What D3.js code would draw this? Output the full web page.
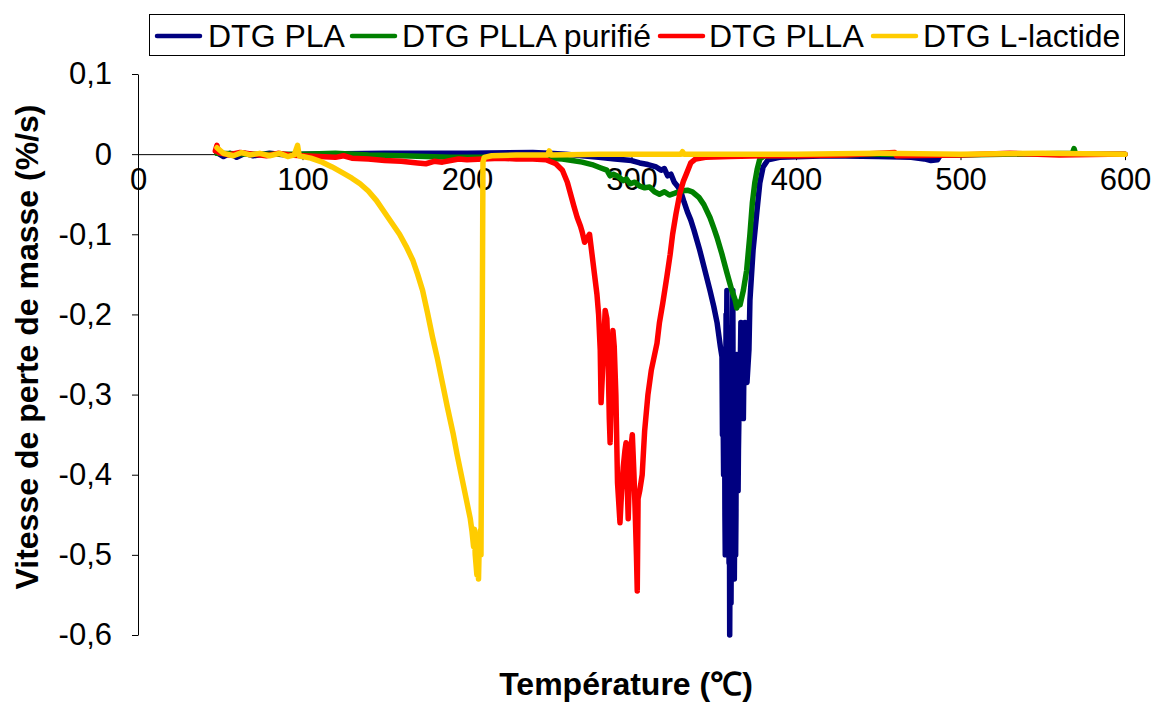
<!DOCTYPE html>
<html>
<head>
<meta charset="utf-8">
<script src="https://cdn.jsdelivr.net/npm/d3@7"></script>
<style>
  body { margin: 0; background: #fff; }
  svg { display: block; font-family: 'Liberation Sans', Arial, sans-serif; }
</style>
</head>
<body>
<div id="chart"></div>
<script>
// [température °C, vitesse %/s]
const seriesNames = ['DTG PLA', 'DTG PLLA purifié', 'DTG PLLA', 'DTG L-lactide'];

const dtgPLA = [
  [48, 0.002], [52, -0.003], [56, 0.001], [60, -0.004], [65, 0.001], [70, -0.002], [80, 0.001],
  [90, -0.001], [100, 0], [150, 0.001], [200, 0.001], [240, 0.002], [250, 0.001], [260, 0],
  [270, -0.002], [280, -0.004], [290, -0.006], [300, -0.008], [305, -0.011], [310, -0.013],
  [315, -0.016], [318, -0.02], [320, -0.018], [322, -0.027], [324, -0.025], [326, -0.035],
  [328, -0.04], [330, -0.047], [332, -0.06], [334, -0.072], [336, -0.082], [338, -0.095],
  [341.5, -0.12], [344, -0.14], [347.7, -0.17], [350, -0.19], [352, -0.21], [354, -0.24],
  [355, -0.253], [355.3, -0.35], [355.6, -0.3], [356, -0.4], [356.3, -0.28], [356.5, -0.25],
  [356.8, -0.45], [357, -0.5], [357.3, -0.3], [357.5, -0.2], [357.7, -0.26], [358, -0.17],
  [358.3, -0.33], [358.5, -0.41], [358.8, -0.3], [359, -0.35], [359.3, -0.51], [359.5, -0.4],
  [359.7, -0.6], [359.9, -0.5], [360.1, -0.45], [360.3, -0.52], [360.5, -0.56], [360.8, -0.42],
  [361, -0.37], [361.3, -0.25], [361.6, -0.17], [361.8, -0.35], [362, -0.5], [362.2, -0.42],
  [362.5, -0.53], [362.8, -0.44], [363, -0.38], [363.3, -0.5], [363.5, -0.45], [363.8, -0.3],
  [364, -0.25], [364.3, -0.4], [364.5, -0.33], [364.8, -0.42], [365, -0.37], [365.5, -0.3],
  [366, -0.28], [366.5, -0.21], [367, -0.3], [367.5, -0.25], [368, -0.33], [368.5, -0.24],
  [369, -0.21], [369.6, -0.26], [370.2, -0.285], [371.4, -0.244], [372, -0.182], [373.9, -0.12],
  [376.3, -0.07], [378, -0.036], [380, -0.016], [383, -0.007], [390, -0.004], [420, -0.002],
  [450, -0.003], [470, -0.004], [478, -0.006], [482, -0.008], [486, -0.007], [487.5, -0.002]
];

const dtgPLLApurifie = [
  [48, 0.001], [70, 0], [100, 0], [120, 0.001], [140, -0.001], [160, -0.002], [175, -0.003],
  [190, -0.004], [200, -0.004], [220, -0.004], [240, -0.004], [250, -0.005], [258, -0.006],
  [264, -0.008], [270, -0.01], [276, -0.013], [281, -0.017], [285, -0.02], [287, -0.027],
  [289, -0.025], [292, -0.028], [295, -0.033], [297, -0.031], [299, -0.037], [302, -0.035],
  [305, -0.04], [308, -0.042], [311, -0.041], [314, -0.047], [317, -0.05], [320, -0.047],
  [323, -0.051], [326, -0.049], [330, -0.046], [334, -0.045], [337, -0.047], [341, -0.054],
  [344, -0.063], [347.7, -0.079], [350, -0.092], [352, -0.104], [355, -0.125], [358, -0.148],
  [361, -0.17], [363, -0.182], [364, -0.192], [365, -0.185], [366, -0.188], [368, -0.17],
  [370, -0.145], [372, -0.1], [373.5, -0.06], [375, -0.035], [376.5, -0.018], [378, -0.006],
  [381, -0.002], [400, -0.001], [450, 0], [500, -0.001], [568, 0.001], [569, 0.007],
  [570, 0], [600, 0]
];

const dtgPLLA = [
  [47, 0.004], [48, 0.011], [49, 0.002], [55, -0.001], [62, 0.002], [70, 0], [78, -0.002],
  [85, 0.001], [92, -0.001], [100, -0.002], [110, -0.003], [120, -0.004], [125, -0.002],
  [130, -0.005], [140, -0.006], [150, -0.008], [160, -0.009], [170, -0.011], [175, -0.012],
  [180, -0.009], [185, -0.01], [190, -0.008], [195, -0.006], [200, -0.007], [210, -0.006],
  [220, -0.005], [230, -0.006], [240, -0.006], [248, -0.007], [254, -0.012], [258, -0.02],
  [261, -0.035], [263, -0.05], [265, -0.065], [267, -0.079], [269, -0.09], [270, -0.097],
  [271.5, -0.11], [273, -0.105], [274.5, -0.1], [276, -0.125], [277.5, -0.15], [279, -0.175],
  [280, -0.2], [281, -0.245], [281.5, -0.31], [282.2, -0.28], [283, -0.24], [284, -0.195],
  [285, -0.205], [285.7, -0.245], [286.5, -0.33], [287, -0.36], [288, -0.27], [288.7, -0.22],
  [289.5, -0.24], [290.5, -0.3], [291.5, -0.41], [293, -0.46], [294, -0.42], [295, -0.39],
  [296, -0.37], [296.7, -0.36], [297.5, -0.42], [298, -0.455], [299, -0.38], [300.5, -0.35],
  [301.5, -0.4], [302.3, -0.45], [303, -0.5], [303.5, -0.545], [304, -0.43], [305, -0.42],
  [306.5, -0.4], [308, -0.345], [310, -0.3], [312, -0.27], [315.5, -0.236], [317, -0.21],
  [319, -0.186], [321.5, -0.153], [323.5, -0.125], [325, -0.1], [327, -0.075], [329.5, -0.048],
  [331.5, -0.034], [333.5, -0.024], [336, -0.011], [339, -0.006], [345, -0.004], [360, -0.003],
  [380, -0.002], [400, -0.002], [430, -0.001], [460, 0.002], [461, -0.002], [500, -0.001],
  [530, 0.001], [560, -0.001], [590, 0], [600, 0]
];

const dtgLlactide = [
  [48, 0.008], [52, 0.001], [58, -0.002], [63, 0.002], [68, -0.001], [74, 0.001], [80, -0.002],
  [86, 0.001], [91, -0.003], [95, -0.001], [97, 0.011], [98, -0.002], [100, -0.003],
  [105, -0.005], [112, -0.01], [118, -0.016], [125, -0.024], [130, -0.03], [135, -0.037],
  [140, -0.046], [145, -0.058], [149, -0.07], [154, -0.085], [159, -0.1], [163, -0.115],
  [167, -0.132], [170, -0.15], [173, -0.17], [176, -0.198], [179, -0.228], [182, -0.255],
  [185, -0.285], [188, -0.315], [191.5, -0.348], [194, -0.375], [197.5, -0.41], [200, -0.435],
  [202, -0.455], [203, -0.47], [204, -0.49], [204.5, -0.468], [205, -0.5], [206, -0.525],
  [206.5, -0.49], [207, -0.53], [207.5, -0.48], [208, -0.47], [208.5, -0.5], [209.3, -0.2],
  [209.7, -0.01], [210.5, -0.004], [215, -0.002], [230, -0.001], [249, -0.001], [250, 0.004],
  [251, -0.001], [280, 0], [300, 0], [330, 0], [331, 0.003], [332, 0], [360, 0], [400, 0],
  [450, 0.001], [500, 0], [550, 0.001], [600, 0]
];

const seriesData = [dtgPLA, dtgPLLApurifie, dtgPLLA, dtgLlactide];
const seriesColors = ['#000080', '#008000', '#ff0000', '#ffcc00'];

const xTicks = [0, 100, 200, 300, 400, 500, 600];
const yTicks = [0.1, 0, -0.1, -0.2, -0.3, -0.4, -0.5, -0.6];

const width = 1154;
const height = 702;

const svg = d3.select('#chart').append('svg')
  .attr('width', width)
  .attr('height', height);

const xScale = d3.scaleLinear().domain([0, 600]).range([138, 1125]);
const yScale = d3.scaleLinear().domain([-0.6, 0.1]).range([635, 74]);

const fmt = (d) => (d === 0 ? '0' : d3.format('.1f')(d).replace('.', ',').replace('−', '-'));

// axe y
const yAxis = d3.axisLeft(yScale)
  .tickValues(yTicks)
  .tickSizeInner(6)
  .tickSizeOuter(0)
  .tickPadding(20)
  .tickFormat(fmt);

const yG = svg.append('g')
  .attr('transform', `translate(${xScale(0)},0)`)
  .call(yAxis);

// axe x, croise à y = 0
const xAxis = d3.axisBottom(xScale)
  .tickValues(xTicks)
  .tickSizeInner(6)
  .tickSizeOuter(0)
  .tickPadding(8)
  .tickFormat((d) => d);

const xG = svg.append('g')
  .attr('transform', `translate(0,${yScale(0)})`)
  .call(xAxis);

[xG, yG].forEach((g) => {
  g.selectAll('path, line').attr('stroke', '#000').attr('stroke-width', 1);
  g.selectAll('text')
    .attr('fill', '#000')
    .style('font-size', '31px')
    .style('font-family', "'Liberation Sans', Arial, sans-serif");
});

// courbes
const line = d3.line()
  .x((d) => xScale(d[0]))
  .y((d) => yScale(d[1]));

svg.append('g').selectAll('path')
  .data(seriesData)
  .join('path')
  .attr('d', (d) => line(d))
  .attr('fill', 'none')
  .attr('stroke', (d, i) => seriesColors[i])
  .attr('stroke-width', 5.5)
  .attr('stroke-linejoin', 'round')
  .attr('stroke-linecap', 'round');

// légende
const legend = svg.append('g');
legend.append('rect')
  .attr('x', 149.5)
  .attr('y', 14.5)
  .attr('width', 975)
  .attr('height', 41)
  .attr('fill', '#fff')
  .attr('stroke', '#000')
  .attr('stroke-width', 1);

const legendLineX = [157, 352, 660, 873];
const legendTextX = [208, 402, 709, 923];
seriesNames.forEach((name, i) => {
  legend.append('line')
    .attr('x1', legendLineX[i])
    .attr('x2', legendLineX[i] + 43)
    .attr('y1', 36)
    .attr('y2', 36)
    .attr('stroke', seriesColors[i])
    .attr('stroke-width', 4.5)
    .attr('stroke-linecap', 'round');
  legend.append('text')
    .attr('x', legendTextX[i])
    .attr('y', 47)
    .style('font-size', '32px')
    .text(name);
});

// titres des axes
svg.append('text')
  .attr('x', 626)
  .attr('y', 695)
  .attr('text-anchor', 'middle')
  .style('font-size', '32px')
  .style('font-weight', 'bold')
  .text('Température (℃)');

svg.append('text')
  .attr('transform', 'translate(38,347) rotate(-90)')
  .attr('text-anchor', 'middle')
  .style('font-size', '32px')
  .style('font-weight', 'bold')
  .text('Vitesse de perte de masse (%/s)');
</script>
</body>
</html>
